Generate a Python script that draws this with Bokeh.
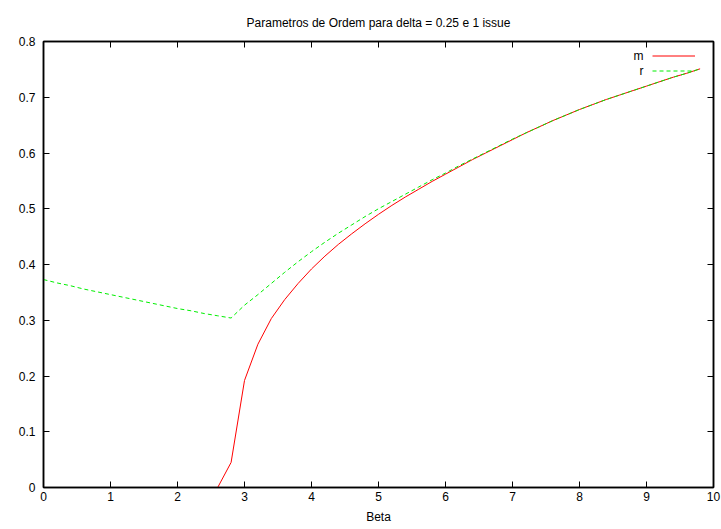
from bokeh.plotting import figure
from bokeh.models import (LinearAxis, FixedTicker, Legend, LegendItem, Label)
from bokeh.embed import file_html
from bokeh.resources import INLINE

# order parameters versus beta
beta = [0.0, 0.2, 0.4, 0.6, 0.8, 1.0, 1.2, 1.4, 1.6, 1.8,
        2.0, 2.2, 2.4, 2.6, 2.8, 3.0, 3.2, 3.4, 3.6, 3.8,
        4.0, 4.2, 4.4, 4.6, 4.8, 5.0, 5.2, 5.4, 5.6, 5.8,
        6.0, 6.2, 6.4, 6.6, 6.8, 7.0, 7.2, 7.4, 7.6, 7.8,
        8.0, 8.2, 8.4, 8.6, 8.8, 9.0, 9.2, 9.4, 9.6, 9.8]

m = [0.0, 0.0, 0.0, 0.0, 0.0, 0.0, 0.0, 0.0, 0.0, 0.0,
     0.0, 0.0, 0.0, 0.0, 0.045, 0.192, 0.257, 0.303, 0.337, 0.366,
     0.392, 0.415, 0.436, 0.455, 0.473, 0.490, 0.506, 0.521, 0.535, 0.549,
     0.562, 0.575, 0.588, 0.600, 0.612, 0.624, 0.636, 0.647, 0.658, 0.668,
     0.678, 0.687, 0.696, 0.704, 0.712, 0.720, 0.728, 0.736, 0.743, 0.751]

r = [0.373, 0.367, 0.362, 0.356, 0.351, 0.346, 0.341, 0.336, 0.331, 0.326,
     0.321, 0.317, 0.312, 0.308, 0.304, 0.327, 0.346, 0.366, 0.386, 0.405,
     0.423, 0.440, 0.456, 0.471, 0.486, 0.500, 0.513, 0.526, 0.539, 0.552,
     0.564, 0.577, 0.589, 0.601, 0.613, 0.625, 0.636, 0.647, 0.658, 0.668,
     0.678, 0.687, 0.696, 0.704, 0.712, 0.720, 0.728, 0.736, 0.743, 0.751]

x_ticks = [0, 1, 2, 3, 4, 5, 6, 7, 8, 9, 10]
y_ticks = [0, 0.1, 0.2, 0.3, 0.4, 0.5, 0.6, 0.7, 0.8]
y_labels = ["0", "0.1", "0.2", "0.3", "0.4", "0.5", "0.6", "0.7", "0.8"]

FONT = "Liberation Sans"
FS = "12px"

p = figure(width=721, height=529, x_range=(0, 10), y_range=(0, 0.8),
           output_backend="svg", toolbar_location=None,
           min_border_left=43, min_border_right=8,
           min_border_top=41, min_border_bottom=42)
p.frame_width = 670
p.frame_height = 446

p.title.text = "Parametros de Ordem para delta = 0.25 e 1 issue"
p.title.align = "center"
p.title.text_font = FONT
p.title.text_font_size = FS
p.title.text_font_style = "normal"
p.title.text_color = "black"
p.title.standoff = 24

p.xgrid.visible = False
p.ygrid.visible = False
p.outline_line_color = "black"
p.outline_line_width = 1.5


def style_axis(ax, ticks):
    ax.ticker = FixedTicker(ticks=ticks)
    ax.major_tick_in = 6
    ax.major_tick_out = 0
    ax.minor_tick_in = 0
    ax.minor_tick_out = 0
    ax.axis_line_color = "black"
    ax.axis_line_width = 1.5
    ax.major_tick_line_color = "black"
    ax.major_label_text_font = FONT
    ax.major_label_text_font_size = FS
    ax.major_label_text_color = "black"
    ax.axis_label_text_font = FONT
    ax.axis_label_text_font_size = FS
    ax.axis_label_text_font_style = "normal"
    ax.axis_label_text_color = "black"


style_axis(p.xaxis[0], x_ticks)
p.xaxis[0].major_label_standoff = 4
p.xaxis[0].axis_label = "Beta"
p.xaxis[0].axis_label_standoff = 6

style_axis(p.yaxis[0], y_ticks)
p.yaxis[0].major_label_standoff = 8
p.yaxis[0].major_label_overrides = {t: s for t, s in zip(y_ticks, y_labels)}

# mirrored tick marks on the top and right edges, without labels
top_axis = LinearAxis()
style_axis(top_axis, x_ticks)
top_axis.major_label_overrides = {t: "" for t in x_ticks}
top_axis.major_label_standoff = 0
p.add_layout(top_axis, "above")

right_axis = LinearAxis()
style_axis(right_axis, y_ticks)
right_axis.major_label_overrides = {t: "" for t in y_ticks}
right_axis.major_label_standoff = 0
p.add_layout(right_axis, "right")

line_m = p.line(beta, m, line_color="#ff0000", line_width=1)
line_r = p.line(beta, r, line_color="#00ee00", line_width=1, line_dash="4 3")

legend = Legend(items=[LegendItem(label=" ", renderers=[line_m]),
                       LegendItem(label=" ", renderers=[line_r])],
                location=(609, 409), glyph_width=43, glyph_height=15,
                label_height=15, label_width=0, label_standoff=0,
                spacing=0, padding=0, margin=0,
                border_line_alpha=0, background_fill_alpha=0)
p.add_layout(legend)

for txt, yy in (("m", 14), ("r", 29)):
    p.add_layout(Label(x=600, y=446 - yy, x_units="screen", y_units="screen",
                       text=txt, text_align="right", text_baseline="middle",
                       text_font=FONT, text_font_size=FS, text_color="black"))

open("out.html", "w").write(file_html(p, INLINE))
